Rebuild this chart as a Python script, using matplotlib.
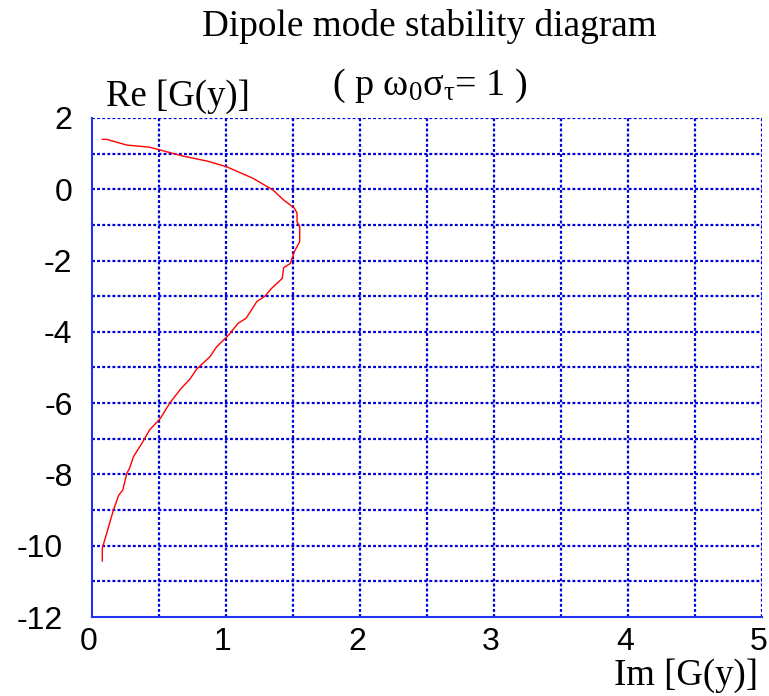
import matplotlib
matplotlib.use("Agg")
import matplotlib.pyplot as plt
import matplotlib.transforms as mtransforms

plt.rcParams["mathtext.fontset"] = "custom"
plt.rcParams["mathtext.rm"] = "Liberation Serif"
plt.rcParams["mathtext.it"] = "Liberation Serif"
plt.rcParams["mathtext.bf"] = "Liberation Serif:bold"
plt.rcParams["axes.unicode_minus"] = False

# curve: Im[G(y)] (x) and Re[G(y)] (y)
im_g = [0.077, 0.11, 0.26, 0.43, 0.51, 0.68, 0.86, 1.005, 1.20, 1.35, 1.43, 1.51,
        1.53, 1.53, 1.55, 1.55, 1.51, 1.48, 1.43, 1.42, 1.34, 1.29, 1.23, 1.15,
        1.09, 1.02, 0.93, 0.88, 0.78, 0.73, 0.66, 0.58, 0.51, 0.43, 0.38, 0.31,
        0.28, 0.26, 0.23, 0.20, 0.16, 0.11, 0.077, 0.077]
re_g = [1.40, 1.40, 1.24, 1.18, 1.10, 0.93, 0.79, 0.63, 0.31, -0.02, -0.30, -0.53,
        -0.67, -0.91, -1.05, -1.47, -1.75, -2.08, -2.20, -2.50, -2.78, -3.0, -3.15, -3.62,
        -3.76, -4.09, -4.42, -4.70, -5.05, -5.33, -5.61, -6.00, -6.43, -6.75, -7.08, -7.50,
        -7.83, -7.97, -8.44, -8.58, -9.0, -9.65, -10.07, -10.43]

x_ticks = [0, 1, 2, 3, 4, 5]
y_ticks = [2, 0, -2, -4, -6, -8, -10, -12]
x_grid = [0.5, 1, 1.5, 2, 2.5, 3, 3.5, 4, 4.5, 5]
y_grid = [2, 1, 0, -1, -2, -3, -4, -5, -6, -7, -8, -9, -10, -11]

fig = plt.figure(figsize=(7.69, 6.96), dpi=100)
ax = fig.add_axes([0.1196, 0.1135, 0.8714, 0.717])

for gx in x_grid:
    ax.axvline(gx, color="#0000dd", lw=1.6, ls=(0, (1.3, 1.0)), zorder=1)
for gy in y_grid:
    ax.axhline(gy, color="#0000dd", lw=1.6, ls=(0, (1.3, 1.0)), zorder=1)

ax.plot(im_g, re_g, color="red", lw=1.0, zorder=3)

ax.set_xlim(0, 5)
ax.set_ylim(-12, 2)
ax.set_xticks(x_ticks)
ax.set_yticks(y_ticks)
ax.tick_params(length=0, labelsize=23, labelfontfamily="Liberation Sans")
ax.tick_params(axis="x", pad=7)
ax.tick_params(axis="y", pad=14)
for s in ["top", "right"]:
    ax.spines[s].set_visible(False)
for s in ["left", "bottom"]:
    ax.spines[s].set_color("#2233ee")
    ax.spines[s].set_linewidth(1.5)

# the two-digit labels sit a bit further left in the original
shift = mtransforms.ScaledTranslation(-10 / 100, 0, fig.dpi_scale_trans)
for tick, val in zip(ax.yaxis.get_major_ticks(), y_ticks):
    if val <= -10:
        tick.label1.set_transform(tick.label1.get_transform() + shift)
# x labels are nudged slightly left of their grid lines
xshift = mtransforms.ScaledTranslation(-3 / 100, 0, fig.dpi_scale_trans)
for tick in ax.xaxis.get_major_ticks():
    tick.label1.set_transform(tick.label1.get_transform() + xshift)

fig.text(0.559, 0.962, "Dipole mode stability diagram", ha="center", va="center",
         fontsize=26.8, family="Liberation Serif")
fig.text(0.559, 0.876, r"( p $\omega_0\sigma_\tau$= 1 )", ha="center", va="center",
         fontsize=27.5, family="Liberation Serif")
fig.text(0.231, 0.861, "Re [G(y)]", ha="center", va="center",
         fontsize=26.5, family="Liberation Serif")
fig.text(0.892, 0.029, "Im [G(y)]", ha="center", va="center",
         fontsize=26.5, family="Liberation Serif")

fig.savefig("out.png", dpi=100)
